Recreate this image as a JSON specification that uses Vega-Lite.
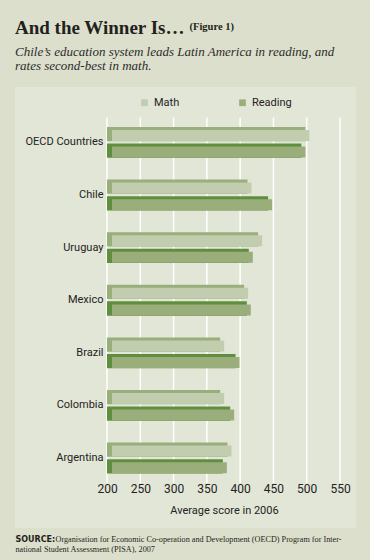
{
  "$schema": "https://vega.github.io/schema/vega-lite/v6.json",
  "width": 341,
  "height": 441,
  "autosize": {"type": "none"},
  "padding": {"left": 15, "top": 87, "right": 14, "bottom": 32},
  "background": "#dcdfcc",
  "view": {"fill": "#e2e6d7", "stroke": null},
  "title": {
    "text": "And the Winner Is…",
    "subtitle": ["Chile’s education system leads Latin America in reading, and", "rates second-best in math."],
    "anchor": "start",
    "frame": "group",
    "font": "Liberation Serif",
    "fontSize": 19,
    "fontWeight": "bold",
    "color": "#231f20",
    "subtitleFont": "Liberation Serif",
    "subtitleFontSize": 13,
    "subtitleFontStyle": "italic",
    "subtitleColor": "#2b2b2b",
    "subtitlePadding": 8,
    "subtitleLineHeight": 14,
    "offset": -52
  },
  "config": {
    "axis": {"grid": false, "domain": false, "ticks": false, "labelColor": "#222222", "titleColor": "#222222"}
  },
  "datasets": {
    "scores": [
      {"country": "OECD Countries", "subject": "Math", "score": 498},
      {"country": "OECD Countries", "subject": "Reading", "score": 492},
      {"country": "Chile", "subject": "Math", "score": 411},
      {"country": "Chile", "subject": "Reading", "score": 442},
      {"country": "Uruguay", "subject": "Math", "score": 427},
      {"country": "Uruguay", "subject": "Reading", "score": 413},
      {"country": "Mexico", "subject": "Math", "score": 406},
      {"country": "Mexico", "subject": "Reading", "score": 410},
      {"country": "Brazil", "subject": "Math", "score": 370},
      {"country": "Brazil", "subject": "Reading", "score": 393},
      {"country": "Colombia", "subject": "Math", "score": 370},
      {"country": "Colombia", "subject": "Reading", "score": 385},
      {"country": "Argentina", "subject": "Math", "score": 381},
      {"country": "Argentina", "subject": "Reading", "score": 374}
    ],
    "ticks": [
      {"tick": 200}, {"tick": 250}, {"tick": 300}, {"tick": 350},
      {"tick": 400}, {"tick": 450}, {"tick": 500}, {"tick": 550}
    ]
  },
  "layer": [
    {
      "data": {"name": "ticks"},
      "mark": {"type": "rule", "color": "#ffffff", "strokeWidth": 1.5, "yOffset": -25, "y2Offset": 25},
      "encoding": {
        "x": {
          "field": "tick", "type": "quantitative",
          "scale": {"domain": [61.8, 574], "nice": false, "zero": false},
          "axis": {"orient": "top", "labels": false, "title": "(Figure 1)", "titleX": 174, "titleY": -58, "titleAlign": "left", "titleBaseline": "alphabetic", "titleFont": "Liberation Serif", "titleFontSize": 10.5, "titleFontWeight": "bold", "titleColor": "#231f20"}
        },
        "y": {
          "datum": "OECD Countries", "type": "nominal",
          "scale": {"type": "band", "domain": ["OECD Countries", "Chile", "Uruguay", "Mexico", "Brazil", "Colombia", "Argentina"], "paddingInner": 0, "paddingOuter": 0.692, "align": 0.4},
          "axis": null
        },
        "y2": {"datum": "Argentina"}
      }
    },
    {
      "data": {"name": "scores"},
      "mark": {"type": "bar"},
      "encoding": {
        "y": {
          "field": "country", "type": "nominal",
          "axis": {"orient": "right", "labels": false, "title": "Organisation for Economic Co-operation and Development (OECD) Program for Inter-", "titleAngle": 0, "titleX": -301, "titleY": 454, "titleAlign": "left", "titleBaseline": "alphabetic", "titleFont": "Liberation Serif", "titleFontSize": 8.2, "titleFontWeight": "normal", "titleColor": "#231f20"}
        },
        "yOffset": {"field": "subject", "type": "nominal", "scale": {"domain": ["Math", "Reading"], "paddingInner": 0.139, "paddingOuter": 0.654}},
        "x": {
          "field": "score", "type": "quantitative",
          "axis": {"orient": "bottom", "labels": false, "title": "SOURCE:", "titleX": 0, "titleY": 13, "titleAlign": "left", "titleBaseline": "alphabetic", "titleFont": "DejaVu Sans", "titleFontSize": 8, "titleFontWeight": "bold", "titleColor": "#231f20"}
        },
        "x2": {"datum": 200},
        "color": {"field": "subject", "type": "nominal", "scale": {"domain": ["Math", "Reading"], "range": ["#98ae7b", "#5f8e3e"]}, "legend": null}
      }
    },
    {
      "data": {"name": "scores"},
      "mark": {"type": "bar", "xOffset": 4, "x2Offset": 5},
      "encoding": {
        "y": {
          "field": "country", "type": "nominal",
          "axis": {"orient": "left", "offset": -92, "labelPadding": 4, "labelFont": "Roboto", "labelFontSize": 11, "title": "national Student Assessment (PISA), 2007", "titleAngle": 0, "titleX": -92, "titleY": 464, "titleAlign": "left", "titleBaseline": "alphabetic", "titleFont": "Liberation Serif", "titleFontSize": 8.2, "titleFontWeight": "normal", "titleColor": "#231f20"}
        },
        "yOffset": {"field": "subject", "type": "nominal", "scale": {"domain": ["Math", "Reading"], "paddingInner": 0.337, "paddingOuter": 0.753, "align": 0.556}},
        "x": {
          "field": "score", "type": "quantitative",
          "axis": {"orient": "bottom", "offset": -48, "values": [200, 250, 300, 350, 400, 450, 500, 550], "labelPadding": 3, "labelFont": "Roboto", "labelFontSize": 12, "title": "Average score in 2006", "titleX": 209, "titleY": 33, "titleAlign": "center", "titleBaseline": "alphabetic", "titleFont": "Roboto", "titleFontSize": 11, "titleFontWeight": "normal"}
        },
        "x2": {"datum": 200},
        "color": {
          "field": "subject", "type": "nominal",
          "scale": {"domain": ["Math", "Reading"], "range": ["#c2cdb0", "#9aae7c"]},
          "legend": {"title": null, "orient": "none", "legendX": 124, "legendY": 10, "direction": "horizontal", "symbolType": "square", "symbolSize": 45, "symbolStrokeWidth": 0, "labelFont": "Roboto", "labelFontSize": 11, "labelColor": "#222222", "labelOffset": 4, "columnPadding": 57, "padding": 0}
        }
      }
    }
  ],
  "resolve": {
    "scale": {"color": "independent", "yOffset": "independent"},
    "axis": {"x": "independent", "y": "independent"}
  }
}
